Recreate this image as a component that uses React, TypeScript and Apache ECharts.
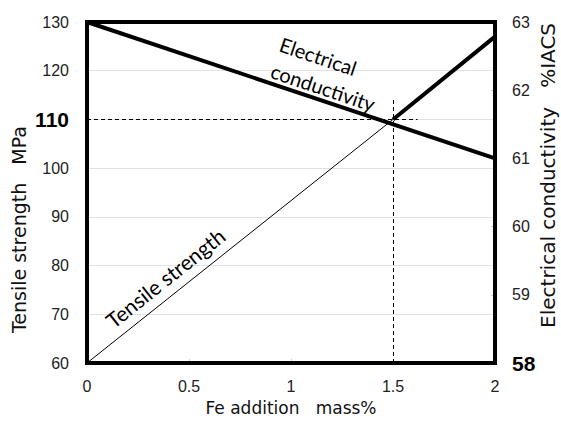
import React, { useEffect, useRef } from "react";
import * as echarts from "echarts";

const feAddition = [0, 1.5, 2];
const tensileLow = [60, 110];
const tensileHigh = [110, 127];
const conductivityX = [0, 2];
const conductivity = [63, 61];
const leftTicks = [60, 70, 80, 90, 100, 110, 120, 130];
const rightTicks = [58, 59, 60, 61, 62, 63];
const xTicks = [0, 0.5, 1, 1.5, 2];
const highlightTensile = 110;
const highlightFe = 1.5;
const leftTitle = "Tensile strength   MPa";
const rightTitle = "Electrical conductivity   %IACS";

export default function App() {
  const ref = useRef<HTMLDivElement>(null);
  useEffect(() => {
    if (!ref.current) return;
    const chart = echarts.init(ref.current, null, { renderer: "svg" });
    const axisFont = "'Liberation Sans', Arial, sans-serif";
    const titleFont = "'DejaVu Sans', sans-serif";
    const option: any = {
      animation: false,
      backgroundColor: "#ffffff",
      grid: {
        left: 87,
        right: 66,
        top: 22,
        bottom: 58,
        show: true,
        borderColor: "#000",
        borderWidth: 4,
        z: 10,
      },
      xAxis: {
        type: "value",
        min: 0,
        max: 2,
        interval: 0.5,
        name: "Fe addition   mass%",
        nameLocation: "middle",
        nameGap: 36,
        nameTextStyle: { fontFamily: titleFont, fontSize: 17, color: "#111" },
        axisLine: { show: false },
        axisTick: { show: true, inside: true, length: 4, lineStyle: { color: "#ccc" } },
        splitLine: { show: false },
        axisLabel: {
          fontFamily: axisFont,
          fontSize: 16,
          color: "#222",
          margin: 15,
          formatter: (v: number) => (xTicks.includes(v) ? String(v) : ""),
        },
      },
      yAxis: [
        {
          type: "value",
          min: leftTicks[0],
          max: leftTicks[leftTicks.length - 1],
          interval: 10,
          axisLine: { show: false },
          axisTick: { show: false },
          splitLine: { show: true, lineStyle: { color: "#e2e2e2", width: 1 } },
          axisLabel: {
            fontFamily: axisFont,
            fontSize: 16,
            color: "#222",
            margin: 18,
            formatter: (v: number) => (v === highlightTensile ? "{b|" + v + "}" : "{n|" + v + "}"),
            rich: {
              n: { fontFamily: axisFont, fontSize: 16, color: "#222" },
              b: { fontFamily: axisFont, fontSize: 21, fontWeight: "bold", color: "#000" },
            },
          },
        },
        {
          type: "value",
          min: rightTicks[0],
          max: rightTicks[rightTicks.length - 1],
          interval: 1,
          position: "right",
          axisLine: { show: false },
          axisTick: { show: true, inside: true, length: 4, lineStyle: { color: "#ccc" } },
          splitLine: { show: false },
          axisLabel: {
            fontFamily: axisFont,
            fontSize: 16,
            color: "#222",
            margin: 17,
            formatter: (v: number) => (v === rightTicks[0] ? "{b|" + v + "}" : "{n|" + v + "}"),
            rich: {
              n: { fontFamily: axisFont, fontSize: 16, color: "#222" },
              b: { fontFamily: axisFont, fontSize: 21, fontWeight: "bold", color: "#000" },
            },
          },
        },
      ],
      series: [
        {
          type: "line",
          yAxisIndex: 0,
          data: tensileLow.map((v, i) => [feAddition[i], v]),
          symbol: "none",
          lineStyle: { color: "#000", width: 1 },
          z: 3,
          markLine: {
            silent: true,
            symbol: "none",
            label: { show: false },
            lineStyle: { color: "#000", width: 1, type: [4, 3] },
            data: [
              [{ coord: [0, highlightTensile] }, { coord: [1.62, highlightTensile] }],
              [{ coord: [highlightFe, 60] }, { coord: [highlightFe, 114.6] }],
            ],
          },
        },
        {
          type: "line",
          yAxisIndex: 0,
          data: tensileHigh.map((v, i) => [feAddition[i + 1], v]),
          symbol: "none",
          lineStyle: { color: "#000", width: 4 },
          z: 4,
        },
        {
          type: "line",
          yAxisIndex: 1,
          data: conductivity.map((v, i) => [conductivityX[i], v]),
          symbol: "none",
          lineStyle: { color: "#000", width: 4 },
          z: 4,
        },
      ],
    };
    chart.setOption(option);

    const L = { gridIndex: 0 };
    const R = { xAxisIndex: 0, yAxisIndex: 1 };

    const p0 = chart.convertToPixel(L, [0, 60]) as number[];
    const p1 = chart.convertToPixel(L, [1.5, 110]) as number[];
    const angT = Math.atan2(-(p1[1] - p0[1]), p1[0] - p0[0]);
    const tx = 0.16;
    const tp = chart.convertToPixel(L, [tx, 60 + (110 - 60) * (tx / 1.5)]) as number[];
    const offT = 18;
    const tPos = [tp[0] - Math.sin(angT) * offT, tp[1] - Math.cos(angT) * offT];

    const c0 = chart.convertToPixel(R, [0, 63]) as number[];
    const c1 = chart.convertToPixel(R, [2, 61]) as number[];
    const angC = Math.atan2(-(c1[1] - c0[1]), c1[0] - c0[0]);
    const cx = 0.885;
    const cp = chart.convertToPixel(R, [cx, 63 - cx]) as number[];
    const offC = 27;
    const cPos = [cp[0] - Math.sin(angC) * offC, cp[1] - Math.cos(angC) * offC];

    const lt = chart.convertToPixel(L, [0, 87.4]) as number[];
    const rt = chart.convertToPixel(R, [2, 60.75]) as number[];

    const annFont = "Lato, 'Open Sans', sans-serif";
    chart.setOption({
      graphic: [
        {
          type: "text",
          x: tPos[0],
          y: tPos[1],
          rotation: angT,
          z: 20,
          style: {
            text: "Tensile strength",
            fontFamily: annFont,
            fontSize: 21,
            fill: "#000",
            align: "left",
            verticalAlign: "middle",
          },
        },
        {
          type: "text",
          x: cPos[0],
          y: cPos[1],
          rotation: angC,
          z: 20,
          style: {
            text: "Electrical\nconductivity",
            fontFamily: annFont,
            fontSize: 20,
            lineHeight: 28,
            fill: "#000",
            align: "left",
            verticalAlign: "middle",
          },
        },
        {
          type: "text",
          x: lt[0] - 68,
          y: lt[1],
          rotation: Math.PI / 2,
          style: {
            text: leftTitle,
            fontFamily: titleFont,
            fontSize: 19,
            fill: "#111",
            align: "center",
            verticalAlign: "middle",
          },
        },
        {
          type: "text",
          x: rt[0] + 53,
          y: rt[1],
          rotation: Math.PI / 2,
          style: {
            text: rightTitle,
            fontFamily: titleFont,
            fontSize: 20,
            fill: "#111",
            align: "center",
            verticalAlign: "middle",
          },
        },
      ],
    });

    return () => chart.dispose();
  }, []);
  return (
    <div
      ref={ref}
      style={{ position: "fixed", left: 0, top: 0, width: 561, height: 421, background: "#fff" }}
    />
  );
}
